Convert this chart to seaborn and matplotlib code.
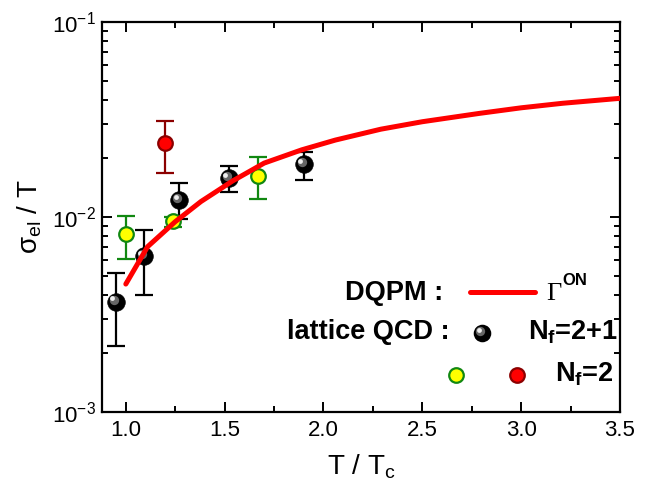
import numpy as np
import matplotlib
matplotlib.use("Agg")
import matplotlib.pyplot as plt
import seaborn as sns
from matplotlib.ticker import MultipleLocator, FormatStrFormatter, LogLocator
from matplotlib.transforms import offset_copy

# -----------------------------
# Datos
# -----------------------------
# DQPM, Gamma^ON
curve_t = [1.0, 1.11, 1.25, 1.38, 1.54, 1.70, 1.89, 2.06, 2.29, 2.50, 2.79, 3.00, 3.21, 3.5]
curve_sigma = [0.00453, 0.00704, 0.00946, 0.0120, 0.0153, 0.0189, 0.0221, 0.0248,
               0.0282, 0.0308, 0.0340, 0.0363, 0.0383, 0.0406]

# lattice QCD, Nf=2+1 (esferas negras)
nf21_t = [0.95, 1.09, 1.27, 1.52, 1.90]
nf21_val = [0.00368, 0.00631, 0.0122, 0.0158, 0.0186]
nf21_lo = [0.00218, 0.0040, 0.00973, 0.01343, 0.01549]
nf21_hi = [0.00514, 0.00858, 0.0149, 0.0183, 0.0216]

# lattice QCD (amarillo / verde)
yel_t = [1.0, 1.24, 1.67]
yel_val = [0.00815, 0.00957, 0.0163]
yel_lo = [0.0061, 0.00891, 0.01236]
yel_hi = [0.01012, 0.00997, 0.0202]

# Nf=2 (rojo)
red_t = [1.20]
red_val = [0.0239]
red_lo = [0.01675]
red_hi = [0.0311]

# -----------------------------
# Estilo
# -----------------------------
sns.set_theme(style="ticks")
plt.rcParams['font.family'] = ['Liberation Sans', 'DejaVu Sans']
plt.rcParams['mathtext.fontset'] = 'custom'
plt.rcParams['mathtext.rm'] = 'Liberation Sans'
plt.rcParams['mathtext.it'] = 'Liberation Sans:italic'
plt.rcParams['mathtext.bf'] = 'Liberation Sans:bold'
plt.rcParams['mathtext.default'] = 'regular'
plt.rcParams['text.color'] = 'black'
plt.rcParams['axes.labelcolor'] = 'black'
plt.rcParams['xtick.color'] = 'black'
plt.rcParams['ytick.color'] = 'black'

fig = plt.figure(figsize=(6.49, 4.93), dpi=100)
ax = fig.add_axes([0.1567, 0.1643, 0.7986, 0.7911])


def err(val, lo, hi):
    val = np.array(val)
    return [val - np.array(lo), np.array(hi) - val]


# Barras de error
ax.errorbar(nf21_t, nf21_val, yerr=err(nf21_val, nf21_lo, nf21_hi), fmt='none',
            ecolor='black', elinewidth=1.6, capsize=6.5, capthick=1.6, zorder=2)
ax.errorbar(yel_t, yel_val, yerr=err(yel_val, yel_lo, yel_hi), fmt='none',
            ecolor='#118811', elinewidth=1.6, capsize=6.5, capthick=1.6, zorder=2)
ax.errorbar(red_t, red_val, yerr=err(red_val, red_lo, red_hi), fmt='none',
            ecolor='#8b0000', elinewidth=1.6, capsize=6.5, capthick=1.6, zorder=2)

# Puntos
sns.scatterplot(x=yel_t, y=yel_val, ax=ax, s=110, color='#ffff00',
                edgecolor='#118811', linewidth=1.6, zorder=3)
sns.scatterplot(x=red_t, y=red_val, ax=ax, s=110, color='#ff0000',
                edgecolor='#8b0000', linewidth=1.6, zorder=3)
sns.scatterplot(x=nf21_t, y=nf21_val, ax=ax, s=160, color='black',
                edgecolor='black', linewidth=0.5, zorder=3)
# brillo de las esferas
hl1 = offset_copy(ax.transData, fig=fig, x=-1.5, y=1.5, units='points')
hl2 = offset_copy(ax.transData, fig=fig, x=-2.5, y=2.5, units='points')
ax.scatter(nf21_t, nf21_val, s=45, color='#666666', linewidths=0, transform=hl1, zorder=4)
ax.scatter(nf21_t, nf21_val, s=12, color='#eeeeee', linewidths=0, transform=hl2, zorder=4)

# Curva DQPM
sns.lineplot(x=curve_t, y=curve_sigma, ax=ax, color='#ff0000', lw=3.6, zorder=5)

# Ejes
ax.set_yscale('log')
ax.set_xlim(0.878, 3.5)
ax.set_ylim(1e-3, 1e-1)
ax.xaxis.set_major_locator(MultipleLocator(0.5))
ax.xaxis.set_minor_locator(MultipleLocator(0.25))
ax.xaxis.set_major_formatter(FormatStrFormatter('%.1f'))
ax.yaxis.set_minor_locator(LogLocator(base=10, subs=np.arange(2, 10)))
ax.tick_params(which='both', direction='in', top=True, right=True, width=1.4, colors='black')
ax.tick_params(which='major', length=7, labelsize=16)
ax.tick_params(axis='x', which='major', pad=6)
ax.tick_params(axis='y', which='major', pad=4)
ax.tick_params(which='minor', length=4)
for sp in ax.spines.values():
    sp.set_linewidth(1.6)
    sp.set_color('black')

ax.set_xlabel(r"T / T$_{\rm c}$", fontsize=20, labelpad=8)
ax.set_ylabel(r"σ$_{\rm el}$ / T", fontsize=20, labelpad=6)

# Leyenda manual
tA = ax.transAxes
ax.text(0.659, 0.305, "DQPM :", transform=tA, fontsize=19.5, fontweight='bold',
        ha='right', va='center')
ax.plot([0.7106, 0.836], [0.3077, 0.3077], transform=tA, color='#ff0000', lw=3.6)
ax.text(0.857, 0.303, "Γ", transform=tA, fontsize=19, family='Liberation Serif',
        ha='left', va='center')
ax.text(0.889, 0.337, "ON", transform=tA, fontsize=12, fontweight='bold',
        ha='left', va='center')

ax.text(0.672, 0.205, "lattice QCD :", transform=tA, fontsize=19.5, fontweight='bold',
        ha='right', va='center')
ax.scatter([0.734], [0.2026], transform=tA, s=160, color='black', linewidths=0, zorder=3)
ax.scatter([0.734], [0.2026], s=45, color='#666666', linewidths=0, zorder=4,
           transform=offset_copy(tA, fig=fig, x=-1.5, y=1.5, units='points'))
ax.scatter([0.734], [0.2026], s=12, color='#eeeeee', linewidths=0, zorder=4,
           transform=offset_copy(tA, fig=fig, x=-2.5, y=2.5, units='points'))
ax.text(0.8225, 0.205, r"N$_{\mathbf{f}}$=2+1", transform=tA, fontsize=19.5,
        fontweight='bold', ha='left', va='center')

ax.scatter([0.6837], [0.0949], transform=tA, s=110, color='#ffff00',
           edgecolors='#118811', linewidths=1.6, zorder=3)
ax.scatter([0.8013], [0.0949], transform=tA, s=110, color='#ff0000',
           edgecolors='#8b0000', linewidths=1.6, zorder=3)
ax.text(0.8746, 0.097, r"N$_{\mathbf{f}}$=2", transform=tA, fontsize=19.5,
        fontweight='bold', ha='left', va='center')

plt.savefig('out.png', dpi=100)
plt.close()
